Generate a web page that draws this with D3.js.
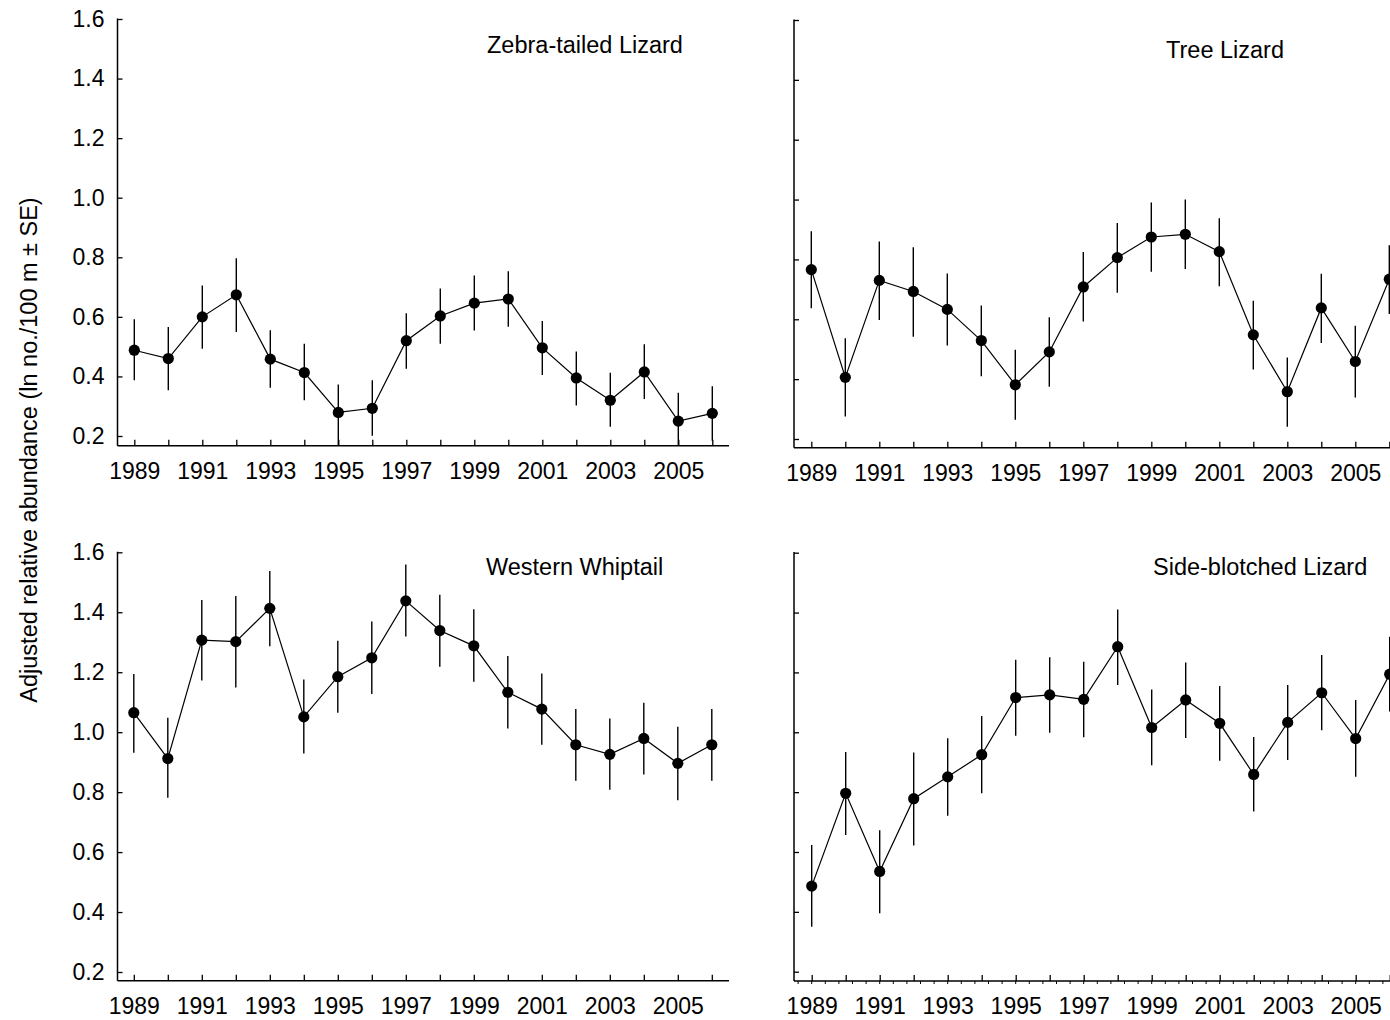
<!DOCTYPE html>
<html>
<head>
<meta charset="utf-8">
<script src="https://cdn.jsdelivr.net/npm/d3@7"></script>
<style>
  html, body { margin: 0; padding: 0; background: #fff; }
  svg { display: block; }
  text { font-family: "Liberation Sans", Arial, Helvetica, sans-serif; fill: #000; }
</style>
</head>
<body>
<svg id="chart" width="1390" height="1020"></svg>
<script>
// Survey years and axis ticks
const years = [1989, 1990, 1991, 1992, 1993, 1994, 1995, 1996, 1997, 1998, 1999, 2000, 2001, 2002, 2003, 2004, 2005, 2006];
const labeledYears = [1989, 1991, 1993, 1995, 1997, 1999, 2001, 2003, 2005];
const yTicks = [0.2, 0.4, 0.6, 0.8, 1.0, 1.2, 1.4, 1.6];

// Zebra-tailed Lizard: adjusted abundance with lower / upper SE bounds
const zebraMean  = [0.488, 0.460, 0.600, 0.674, 0.458, 0.413, 0.279, 0.293, 0.520, 0.603, 0.646, 0.660, 0.496, 0.395, 0.320, 0.415, 0.250, 0.276];
const zebraLower = [0.387, 0.354, 0.493, 0.549, 0.362, 0.320, 0.160, 0.201, 0.426, 0.510, 0.554, 0.567, 0.405, 0.302, 0.231, 0.324, 0.155, 0.184];
const zebraUpper = [0.592, 0.566, 0.705, 0.797, 0.555, 0.510, 0.373, 0.387, 0.612, 0.695, 0.739, 0.753, 0.586, 0.484, 0.412, 0.508, 0.345, 0.367];

// Tree Lizard
const treeMean  = [0.766, 0.406, 0.730, 0.693, 0.633, 0.529, 0.381, 0.491, 0.708, 0.806, 0.875, 0.884, 0.826, 0.548, 0.358, 0.638, 0.459, 0.734];
const treeLower = [0.637, 0.275, 0.598, 0.542, 0.512, 0.410, 0.264, 0.375, 0.593, 0.689, 0.759, 0.768, 0.710, 0.432, 0.241, 0.521, 0.339, 0.618];
const treeUpper = [0.894, 0.537, 0.860, 0.841, 0.753, 0.646, 0.498, 0.607, 0.825, 0.922, 0.990, 1.000, 0.938, 0.662, 0.472, 0.752, 0.578, 0.847];

// Western Whiptail
const whiptailMean  = [1.065, 0.912, 1.307, 1.302, 1.413, 1.051, 1.185, 1.248, 1.438, 1.339, 1.288, 1.133, 1.077, 0.958, 0.926, 0.979, 0.896, 0.958];
const whiptailLower = [0.931, 0.781, 1.172, 1.149, 1.287, 0.929, 1.065, 1.127, 1.319, 1.218, 1.168, 1.012, 0.958, 0.838, 0.808, 0.859, 0.773, 0.838];
const whiptailUpper = [1.194, 1.048, 1.441, 1.454, 1.538, 1.176, 1.305, 1.369, 1.559, 1.458, 1.410, 1.254, 1.196, 1.077, 1.046, 1.098, 1.018, 1.077];

// Side-blotched Lizard
const sideMean  = [0.486, 0.796, 0.535, 0.778, 0.851, 0.925, 1.116, 1.125, 1.110, 1.286, 1.016, 1.108, 1.030, 0.859, 1.033, 1.132, 0.979, 1.194];
const sideLower = [0.350, 0.657, 0.395, 0.622, 0.721, 0.796, 0.988, 0.998, 0.983, 1.158, 0.890, 0.981, 0.905, 0.735, 0.907, 1.007, 0.851, 1.069];
const sideUpper = [0.623, 0.934, 0.673, 0.932, 0.980, 1.054, 1.242, 1.251, 1.236, 1.410, 1.143, 1.233, 1.155, 0.984, 1.158, 1.258, 1.108, 1.319];

const yTitle = "Adjusted relative abundance (ln no./100 m \u00b1 SE)";

// Panel geometry
const panels = [
  { name: "Zebra-tailed Lizard",  mean: zebraMean,    lower: zebraLower,    upper: zebraUpper,
    axisX: 117.5, yTop: 19,    yBottom: 436,   axisY: 445.7, x0: 134.3, xEnd: 729,  yLabels: true,  minor: false, labelX: 487,  labelY: 52.5 },
  { name: "Tree Lizard",          mean: treeMean,     lower: treeLower,     upper: treeUpper,
    axisX: 794,   yTop: 20,    yBottom: 439,   axisY: 447.7, x0: 811.3, xEnd: 1400, yLabels: false, minor: false, labelX: 1166, labelY: 58 },
  { name: "Western Whiptail",     mean: whiptailMean, lower: whiptailLower, upper: whiptailUpper,
    axisX: 117.5, yTop: 552.3, yBottom: 972,   axisY: 980.7, x0: 133.8, xEnd: 729,  yLabels: true,  minor: false, labelX: 486,  labelY: 575 },
  { name: "Side-blotched Lizard", mean: sideMean,     lower: sideLower,     upper: sideUpper,
    axisX: 794,   yTop: 552.7, yBottom: 971.7, axisY: 981,   x0: 811.7, xEnd: 1400, yLabels: false, minor: true,  labelX: 1153, labelY: 575 }
];

const yearStep = 34;
const tickFont = 23;
const titleFont = 23.5;
const svg = d3.select("#chart");

panels.forEach(p => {
  const x = d3.scaleLinear().domain([1989, 2005]).range([p.x0, p.x0 + 16 * yearStep]);
  const y = d3.scaleLinear().domain([0.2, 1.6]).range([p.yBottom, p.yTop]);
  const floorVal = y.invert(p.axisY);
  const g = svg.append("g");

  // y axis: ticks point inward
  const yAxis = d3.axisLeft(y)
    .tickValues(yTicks)
    .tickSize(-5)
    .tickSizeOuter(0)
    .tickPadding(13)
    .tickFormat(p.yLabels ? d3.format(".1f") : () => "");
  const gy = g.append("g").attr("transform", `translate(${p.axisX},0)`).call(yAxis);
  gy.select(".domain").remove();
  gy.selectAll("line").attr("stroke", "#000").attr("stroke-width", 1.3);
  gy.selectAll("text").attr("font-size", tickFont).attr("fill", "#000");

  g.append("line")
    .attr("x1", p.axisX).attr("x2", p.axisX)
    .attr("y1", y(1.6) - 0.6).attr("y2", p.axisY)
    .attr("stroke", "#000").attr("stroke-width", 1.5);

  // x axis: a tick each year, labels on odd years
  const xAxis = d3.axisBottom(x)
    .tickValues(years)
    .tickSize(-6)
    .tickSizeOuter(0)
    .tickPadding(17)
    .tickFormat(d => labeledYears.includes(d) ? String(d) : "");
  const gx = g.append("g").attr("transform", `translate(0,${p.axisY})`).call(xAxis);
  gx.select(".domain").remove();
  gx.selectAll("line").attr("stroke", "#000").attr("stroke-width", 1.3);
  gx.selectAll("text").attr("font-size", tickFont).attr("fill", "#000");

  g.append("line")
    .attr("x1", p.axisX).attr("x2", p.xEnd)
    .attr("y1", p.axisY).attr("y2", p.axisY)
    .attr("stroke", "#000").attr("stroke-width", 1.5);

  if (p.minor) {
    const minorTicks = d3.range(1988.6, 2007, 0.4);
    g.append("g").selectAll("line").data(minorTicks).join("line")
      .attr("x1", d => x(d)).attr("x2", d => x(d))
      .attr("y1", p.axisY).attr("y2", p.axisY + 3)
      .attr("stroke", "#000").attr("stroke-width", 1);
  }

  // panel title
  g.append("text")
    .attr("x", p.labelX).attr("y", p.labelY)
    .attr("font-size", titleFont)
    .text(p.name);

  const rows = years.map((yr, i) => ({ yr, m: p.mean[i], lo: Math.max(p.lower[i], floorVal), hi: p.upper[i] }));

  // SE bars
  g.append("g").selectAll("line").data(rows).join("line")
    .attr("x1", d => x(d.yr)).attr("x2", d => x(d.yr))
    .attr("y1", d => y(d.lo)).attr("y2", d => y(d.hi))
    .attr("stroke", "#000").attr("stroke-width", 1.4);

  // connecting line
  g.append("path")
    .datum(rows)
    .attr("fill", "none")
    .attr("stroke", "#000")
    .attr("stroke-width", 1.2)
    .attr("d", d3.line().x(d => x(d.yr)).y(d => y(d.m)));

  // means
  g.append("g").selectAll("circle").data(rows).join("circle")
    .attr("cx", d => x(d.yr)).attr("cy", d => y(d.m))
    .attr("r", 5.6)
    .attr("fill", "#000");
});

// shared y-axis title
svg.append("text")
  .attr("transform", "translate(37,450) rotate(-90)")
  .attr("text-anchor", "middle")
  .attr("font-size", titleFont)
  .text(yTitle);
</script>
</body>
</html>
